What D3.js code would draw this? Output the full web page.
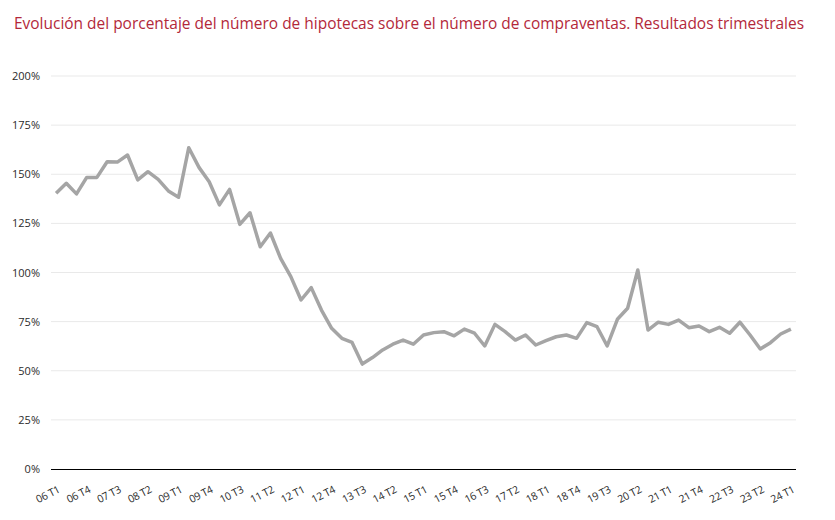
<!DOCTYPE html>
<html>
<head>
<meta charset="utf-8">
<script src="https://cdn.jsdelivr.net/npm/d3@7.9.0/dist/d3.min.js"></script>
<style>
  body { margin: 0; background: #fff; }
  svg { display: block; font-family: "Open Sans", "Noto Sans", sans-serif; }
</style>
</head>
<body>
<svg id="chart" width="835" height="520"></svg>
<script>
// quarters 06 T1 .. 24 T1
const years = d3.range(6, 25);
const quarters = [];
years.forEach((y) => {
  for (let q = 1; q <= 4; q++) {
    if (y === 24 && q > 1) break;
    quarters.push(String(y).padStart(2, "0") + " T" + q);
  }
});

// % hipotecas sobre compraventas
const values = [
  140.3, 145.4, 140.0, 148.4, 148.4, 156.4, 156.2, 159.8, 147.1, 151.3,
  147.4, 141.5, 138.3, 163.5, 153.5, 146.2, 134.4, 142.3, 124.5, 130.4,
  113.1, 120.1, 107.2, 97.9, 86.0, 92.3, 80.9, 71.6, 66.5, 64.4,
  53.4, 56.7, 60.6, 63.5, 65.6, 63.5, 68.2, 69.4, 69.9, 67.8,
  71.2, 69.1, 62.6, 73.6, 69.9, 65.6, 68.2, 63.1, 65.3, 67.3,
  68.2, 66.5, 74.5, 72.4, 62.6, 76.2, 81.8, 101.3, 70.7, 74.7,
  73.6, 75.8, 71.9, 72.8, 69.9, 72.1, 69.1, 74.7, 68.2, 61.1,
  64.3, 68.7, 71.2
];

const yTicks = [0, 25, 50, 75, 100, 125, 150, 175, 200];
// every third quarter gets a label
const xLabels = quarters.filter((d, i) => i % 3 === 0);

const title = "Evolución del porcentaje del número de hipotecas sobre el número de compraventas. Resultados trimestrales";

const svg = d3.select("#chart");

const x = d3.scalePoint().domain(quarters).range([51, 796]).padding(0.5);
const y = d3.scaleLinear().domain([0, 200]).range([469, 76]);

// title
svg.append("text")
  .attr("x", 14)
  .attr("y", 29)
  .attr("fill", "#b3283a")
  .attr("font-size", 16)
  .attr("textLength", 790)
  .attr("lengthAdjust", "spacingAndGlyphs")
  .text(title);

// gridlines
svg.append("g")
  .selectAll("line")
  .data(yTicks.filter((d) => d > 0))
  .join("line")
  .attr("x1", 51)
  .attr("x2", 796)
  .attr("y1", (d) => y(d))
  .attr("y2", (d) => y(d))
  .attr("stroke", "#e9e9e9")
  .attr("stroke-width", 1);

// y axis labels
const yAxis = d3.axisLeft(y)
  .tickValues(yTicks)
  .tickFormat((d) => d + "%")
  .tickSize(0)
  .tickPadding(0);

svg.append("g")
  .attr("transform", "translate(40,0)")
  .call(yAxis)
  .call((g) => g.select(".domain").remove())
  .call((g) => g.selectAll("text")
    .attr("font-family", "Open Sans, sans-serif")
    .attr("font-size", 11)
    .attr("fill", "#2b2b2b"));

// x axis
const xAxis = d3.axisBottom(x)
  .tickValues(xLabels)
  .tickSize(0)
  .tickPadding(0);

svg.append("g")
  .attr("transform", `translate(0,${y(0)})`)
  .call(xAxis)
  .call((g) => g.select(".domain")
    .attr("d", "M51,0.5H796")
    .attr("stroke", "#000")
    .attr("stroke-width", 1.2))
  .call((g) => g.selectAll("text")
    .attr("font-family", "Open Sans, sans-serif")
    .attr("font-size", 10.5)
    .attr("letter-spacing", -0.3)
    .attr("fill", "#2b2b2b")
    .attr("text-anchor", "end")
    .attr("dy", 0)
    .attr("transform", "translate(4,23) rotate(-27)"));

// line
const line = d3.line()
  .x((d, i) => x(quarters[i]))
  .y((d) => y(d));

svg.append("path")
  .datum(values)
  .attr("fill", "none")
  .attr("stroke", "#a5a5a5")
  .attr("stroke-width", 3.5)
  .attr("stroke-linejoin", "round")
  .attr("d", line);
</script>
</body>
</html>
